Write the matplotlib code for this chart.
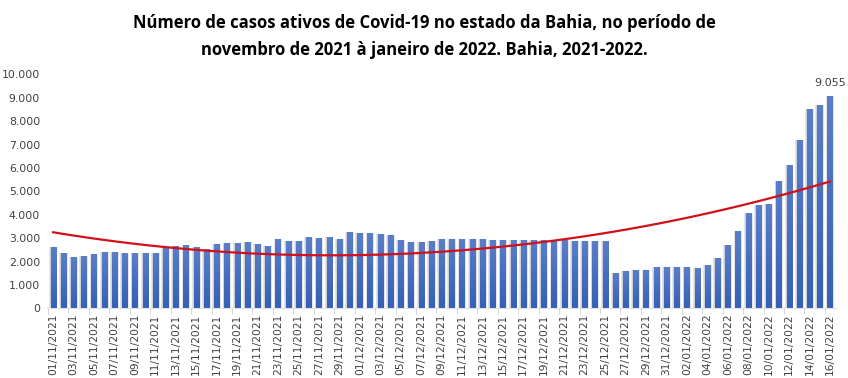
import numpy as np
import pandas as pd
import matplotlib
matplotlib.use('Agg')
import matplotlib.pyplot as plt
from matplotlib.colors import LinearSegmentedColormap
from matplotlib.ticker import FuncFormatter

# data
dates = pd.date_range('2021-11-01', '2022-01-16', freq='D')
labels = [d.strftime('%d/%m/%Y') for d in dates]

casos = [2620, 2360, 2190, 2240, 2320, 2410, 2410, 2360, 2360, 2360,
         2360, 2580, 2660, 2700, 2620, 2530, 2750, 2790, 2790, 2830,
         2750, 2660, 2960, 2880, 2880, 3050, 3000, 3050, 2960, 3260,
         3220, 3220, 3180, 3130, 2920, 2830, 2830, 2880, 2950, 2950,
         2960, 2960, 2960, 2930, 2930, 2930, 2930, 2930, 2930, 2900,
         2900, 2880, 2880, 2880, 2880, 1500, 1590, 1640, 1640, 1760,
         1760, 1760, 1760, 1720, 1850, 2150, 2710, 3300, 4060, 4410,
         4460, 5440, 6120, 7190, 8520, 8700, 9055]

titulo = ('Número de casos ativos de Covid-19 no estado da Bahia, no período de\n'
          'novembro de 2021 à janeiro de 2022. Bahia, 2021-2022.')

x = np.arange(len(casos))
y = np.array(casos)

# 2nd order polynomial trend (like the Excel trendline)
coef = np.polyfit(x, y, 2)
trend = np.polyval(coef, x)

fig = plt.figure(figsize=(8.48, 3.78), dpi=100)
ax = fig.add_axes([0.0554, 0.1844, 0.9306, 0.619])

# soft grey shadow behind bars
ax.bar(x, y, width=0.84, color='#e4e5e9', linewidth=0, zorder=1)
ax.bar(x, y, width=0.68, color='#cdd1d8', linewidth=0, zorder=1.5)
bars = ax.bar(x, y, width=0.5, color='none', linewidth=0, zorder=2)

# vertical gradient on each blue bar
cmap = LinearSegmentedColormap.from_list('azul', ['#3560b5', '#5b7ec8'])
grad = np.linspace(0, 1, 256).reshape(-1, 1)
for b in bars:
    bx, bw, bh = b.get_x(), b.get_width(), b.get_height()
    im = ax.imshow(grad, cmap=cmap, extent=[bx, bx + bw, 0, bh],
                   origin='lower', aspect='auto', zorder=2)
    im.set_clip_path(b)

ax.plot(x, trend, color='#d0101a', linewidth=1.6, zorder=3)

ax.annotate('{:,}'.format(casos[-1]).replace(',', '.'), (x[-1], y[-1]),
            xytext=(0, 6), textcoords='offset points', ha='center', va='bottom',
            fontsize=8, color='#404040')

ax.set_xlim(-0.6, len(casos) - 0.4)
ax.set_ylim(0, 10000)
ax.set_yticks(np.arange(0, 10001, 1000))
ax.yaxis.set_major_formatter(FuncFormatter(lambda v, p: '{:,.0f}'.format(v).replace(',', '.')))
ax.set_xticks(x[::2])
ax.set_xticklabels(labels[::2], rotation=90, fontsize=7.7, color='#404040')
ax.tick_params(axis='x', length=0, pad=4)
ax.tick_params(axis='y', length=0, labelsize=7.8, labelcolor='#404040', pad=5)
ax.set_xticks(np.arange(-0.5, len(casos), 2), minor=True)
ax.tick_params(axis='x', which='minor', length=4, color='#d0d0d0')

for s in ['top', 'right', 'left']:
    ax.spines[s].set_visible(False)
ax.spines['bottom'].set_color('#e0e0e0')

fig.text(0.5, 0.962, titulo, ha='center', va='top', fontsize=12,
         fontweight='bold', fontstretch='normal', linespacing=1.6,
         family='Open Sans')

plt.savefig('out.png', dpi=100)
